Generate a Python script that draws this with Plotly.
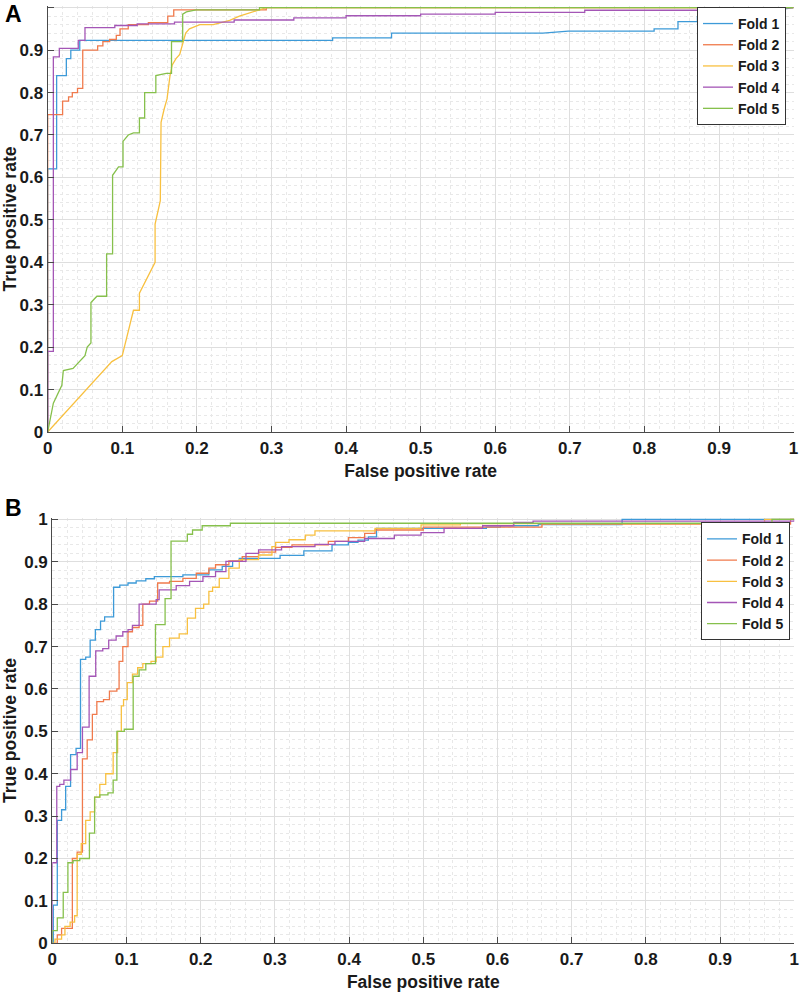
import plotly.graph_objects as go

# ---------------- Panel A data (FPR, TPR vertices) ----------------
A1_fpr = [0, 0, 0.012, 0.012, 0.025, 0.025, 0.031, 0.031, 0.043, 0.043, 0.382, 0.382, 0.461, 0.461, 0.664, 0.698, 0.813, 0.813, 0.845, 0.845, 0.871, 0.871, 0.916, 1.0]
A1_tpr = [0, 0.62, 0.62, 0.84, 0.84, 0.88, 0.88, 0.90, 0.90, 0.923, 0.923, 0.929, 0.929, 0.940, 0.940, 0.945, 0.945, 0.950, 0.950, 0.967, 0.967, 0.979, 0.979, 1.0]

A2_fpr = [0, 0, 0.020, 0.020, 0.028, 0.028, 0.033, 0.033, 0.040, 0.040, 0.047, 0.047, 0.067, 0.067, 0.074, 0.074, 0.083, 0.083, 0.092, 0.092, 0.097, 0.097, 0.108, 0.108, 0.135, 0.135, 0.161, 0.161, 0.169, 0.169, 0.293, 0.293, 1.0]
A2_tpr = [0, 0.748, 0.748, 0.78, 0.78, 0.79, 0.79, 0.80, 0.80, 0.81, 0.81, 0.90, 0.90, 0.91, 0.91, 0.92, 0.92, 0.925, 0.925, 0.935, 0.935, 0.95, 0.95, 0.96, 0.96, 0.965, 0.965, 0.98, 0.98, 0.995, 0.995, 1.0, 1.0]

A3_fpr = [0, 0.086, 0.100, 0.115, 0.123, 0.123, 0.144, 0.144, 0.151, 0.152, 0.156, 0.160, 0.164, 0.167, 0.172, 0.177, 0.181, 0.185, 0.190, 0.204, 0.222, 0.244, 0.257, 0.275, 0.293, 1.0]
A3_tpr = [0, 0.166, 0.180, 0.287, 0.287, 0.327, 0.400, 0.490, 0.545, 0.730, 0.760, 0.785, 0.840, 0.865, 0.880, 0.890, 0.915, 0.940, 0.950, 0.960, 0.960, 0.970, 0.980, 0.990, 1.0, 1.0]

A4_fpr = [0, 0, 0.0076, 0.0076, 0.0156, 0.0156, 0.041, 0.041, 0.050, 0.050, 0.09, 0.09, 0.12, 0.12, 0.17, 0.17, 0.25, 0.25, 0.33, 0.33, 0.40, 0.40, 0.50, 0.50, 0.60, 0.60, 0.72, 0.72, 0.94, 0.94, 1.0]
A4_tpr = [0, 0.19, 0.19, 0.884, 0.884, 0.904, 0.904, 0.923, 0.923, 0.953, 0.953, 0.958, 0.958, 0.962, 0.962, 0.966, 0.966, 0.971, 0.971, 0.976, 0.976, 0.981, 0.981, 0.985, 0.985, 0.989, 0.989, 0.994, 0.994, 1.0, 1.0]

A5_fpr = [0, 0.0076, 0.019, 0.021, 0.034, 0.050, 0.053, 0.058, 0.058, 0.066, 0.079, 0.079, 0.087, 0.087, 0.095, 0.101, 0.101, 0.108, 0.115, 0.123, 0.123, 0.130, 0.130, 0.137, 0.145, 0.145, 0.159, 0.166, 0.166, 0.175, 0.181, 0.181, 0.186, 0.199, 0.284, 0.284, 1.0]
A5_tpr = [0, 0.068, 0.110, 0.145, 0.150, 0.180, 0.200, 0.210, 0.305, 0.320, 0.320, 0.420, 0.420, 0.605, 0.625, 0.625, 0.685, 0.700, 0.705, 0.705, 0.740, 0.740, 0.800, 0.800, 0.800, 0.840, 0.845, 0.845, 0.920, 0.920, 0.920, 0.985, 0.990, 0.995, 0.995, 1.0, 1.0]

# ---------------- Panel B data (step points: FPR, TPR) ----------------
B1_fpr = [0, 0.0013, 0.0067, 0.0125, 0.018, 0.0246, 0.032, 0.038, 0.045, 0.051, 0.058, 0.065, 0.0705, 0.0826, 0.091, 0.102, 0.113, 0.126, 0.1375, 0.176, 0.211, 0.229, 0.243, 0.252, 0.307, 0.339, 0.377, 0.399, 0.412, 0.426, 0.437, 0.585, 0.604, 0.655, 0.768, 1.0]
B1_tpr = [0, 0.09, 0.29, 0.315, 0.37, 0.445, 0.46, 0.67, 0.675, 0.715, 0.74, 0.76, 0.77, 0.84, 0.845, 0.85, 0.855, 0.86, 0.865, 0.869, 0.881, 0.889, 0.901, 0.908, 0.915, 0.926, 0.940, 0.946, 0.951, 0.959, 0.979, 0.982, 0.985, 0.988, 1.0, 1.0]

B2_fpr = [0, 0.0067, 0.0125, 0.027, 0.0335, 0.0406, 0.047, 0.054, 0.060, 0.069, 0.077, 0.087, 0.090, 0.095, 0.102, 0.108, 0.117, 0.122, 0.131, 0.142, 0.158, 0.176, 0.194, 0.211, 0.220, 0.238, 0.256, 0.278, 0.301, 0.323, 0.372, 0.399, 0.421, 0.435, 0.50, 0.66, 0.995, 1.0]
B2_tpr = [0, 0.02, 0.035, 0.20, 0.215, 0.435, 0.48, 0.54, 0.57, 0.575, 0.595, 0.60, 0.665, 0.70, 0.735, 0.745, 0.75, 0.80, 0.807, 0.85, 0.854, 0.861, 0.873, 0.885, 0.893, 0.902, 0.912, 0.923, 0.934, 0.940, 0.948, 0.957, 0.967, 0.975, 0.982, 0.989, 1.0, 1.0]

B3_fpr = [0, 0.0036, 0.0125, 0.017, 0.024, 0.030, 0.0335, 0.039, 0.045, 0.051, 0.057, 0.064, 0.072, 0.082, 0.088, 0.093, 0.096, 0.101, 0.108, 0.115, 0.122, 0.133, 0.140, 0.149, 0.158, 0.171, 0.182, 0.193, 0.204, 0.211, 0.216, 0.225, 0.238, 0.252, 0.278, 0.296, 0.301, 0.319, 0.341, 0.354, 0.435, 0.497, 0.55, 0.96, 1.0]
B3_tpr = [0, 0.01, 0.02, 0.04, 0.05, 0.065, 0.21, 0.235, 0.29, 0.31, 0.345, 0.375, 0.40, 0.45, 0.50, 0.56, 0.575, 0.615, 0.635, 0.65, 0.66, 0.665, 0.675, 0.70, 0.72, 0.73, 0.767, 0.79, 0.80, 0.83, 0.84, 0.861, 0.885, 0.905, 0.916, 0.936, 0.946, 0.952, 0.963, 0.973, 0.979, 0.987, 0.99, 1.0, 1.0]

B4_fpr = [0, 0, 0.006, 0.010, 0.0156, 0.0246, 0.0335, 0.0406, 0.0496, 0.0585, 0.068, 0.076, 0.086, 0.095, 0.102, 0.108, 0.117, 0.131, 0.140, 0.144, 0.167, 0.185, 0.203, 0.220, 0.234, 0.261, 0.278, 0.309, 0.354, 0.381, 0.421, 0.461, 0.497, 0.528, 0.58, 0.622, 0.648, 1.0]
B4_tpr = [0, 0.19, 0.37, 0.375, 0.385, 0.41, 0.45, 0.51, 0.63, 0.69, 0.695, 0.715, 0.725, 0.735, 0.74, 0.75, 0.80, 0.80, 0.811, 0.834, 0.844, 0.854, 0.865, 0.877, 0.901, 0.920, 0.928, 0.936, 0.941, 0.948, 0.955, 0.963, 0.969, 0.979, 0.985, 0.993, 0.996, 1.0]

B5_fpr = [0, 0, 0.0067, 0.0147, 0.021, 0.028, 0.037, 0.050, 0.057, 0.064, 0.075, 0.082, 0.087, 0.097, 0.109, 0.117, 0.126, 0.139, 0.152, 0.160, 0.182, 0.189, 0.202, 0.240, 0.97, 1.0]
B5_tpr = [0, 0.03, 0.06, 0.12, 0.19, 0.195, 0.20, 0.26, 0.345, 0.35, 0.355, 0.385, 0.50, 0.505, 0.63, 0.645, 0.66, 0.752, 0.813, 0.949, 0.965, 0.975, 0.985, 0.991, 1.0, 1.0]

fold_names = ["Fold 1", "Fold 2", "Fold 3", "Fold 4", "Fold 5"]
colors = ["#3d9ad8", "#f07a4c", "#f8c040", "#a456b6", "#86c04c"]
axis_ticks = [0, 0.1, 0.2, 0.3, 0.4, 0.5, 0.6, 0.7, 0.8, 0.9, 1]
tick_text = ["0", "0.1", "0.2", "0.3", "0.4", "0.5", "0.6", "0.7", "0.8", "0.9", "1"]

A_data = [(A1_fpr, A1_tpr), (A2_fpr, A2_tpr), (A3_fpr, A3_tpr), (A4_fpr, A4_tpr), (A5_fpr, A5_tpr)]
B_data = [(B1_fpr, B1_tpr), (B2_fpr, B2_tpr), (B3_fpr, B3_tpr), (B4_fpr, B4_tpr), (B5_fpr, B5_tpr)]

FONT = "Liberation Sans, Arial, Helvetica, sans-serif"
INK = "#1a1a1a"
AXC = "#4a4a4a"

fig = go.Figure()
for (fx, ty), name, c in zip(A_data, fold_names, colors):
    fig.add_trace(go.Scatter(x=fx, y=ty, mode="lines", name=name,
                             line=dict(color=c, width=1.3, shape="linear"),
                             xaxis="x", yaxis="y", legend="legend"))
for (fx, ty), name, c in zip(B_data, fold_names, colors):
    fig.add_trace(go.Scatter(x=fx, y=ty, mode="lines", name=name,
                             line=dict(color=c, width=1.3, shape="hv"),
                             xaxis="x2", yaxis="y2", legend="legend2"))


def axis(domain, anchor, title, standoff, rng, lab_off):
    return dict(
        domain=domain, anchor=anchor, range=rng, automargin=False,
        tickmode="array", tickvals=axis_ticks, ticktext=tick_text,
        ticks="inside", ticklen=6, tickwidth=1, tickcolor=AXC,
        ticklabelstandoff=lab_off,
        showline=True, linecolor=AXC, linewidth=1.2, mirror=False,
        showgrid=True, gridcolor="#dedede", gridwidth=1,
        minor=dict(dtick=0.02, tick0=0, showgrid=True, gridcolor="#e8e8e8",
                   griddash="dot", gridwidth=1, ticks=""),
        zeroline=False,
        tickfont=dict(family=FONT, size=17, color=INK, weight="bold"),
        title=dict(text=title, standoff=standoff,
                   font=dict(family=FONT, size=17.5, color=INK, weight="bold")),
    )


layout_kw = dict(
    width=800, height=992,
    margin=dict(l=0, r=0, t=0, b=0, autoexpand=False),
    paper_bgcolor="white", plot_bgcolor="white",
    xaxis=axis([0.0596, 0.992], "y", "False positive rate", 8, [0, 1], 0),
    yaxis=axis([0.5645, 0.99395], "x", "True positive rate", 3, [0, 1.004], 0),
    xaxis2=axis([0.0654, 0.9928], "y2", "False positive rate", 8, [0, 1], 0),
    yaxis2=axis([0.0491, 0.4781], "x2", "True positive rate", 3, [0, 1.004], 0),
    legend=dict(x=0.9825, y=0.993, xanchor="right", yanchor="top",
                bgcolor="white", bordercolor="#333333", borderwidth=1,
                font=dict(family=FONT, size=14, color=INK, weight="bold"),
                itemwidth=30, tracegroupgap=0),
    legend2=dict(x=0.9875, y=0.4735, xanchor="right", yanchor="top",
                 bgcolor="white", bordercolor="#333333", borderwidth=1,
                 font=dict(family=FONT, size=14, color=INK, weight="bold"),
                 itemwidth=30, tracegroupgap=0),
    annotations=[
        dict(text="A", x=0.004, y=0.9859, xref="paper", yref="paper",
             xanchor="left", yanchor="middle", showarrow=False,
             font=dict(family=FONT, size=23, color="black", weight="bold")),
        dict(text="B", x=0.004, y=0.4879, xref="paper", yref="paper",
             xanchor="left", yanchor="middle", showarrow=False,
             font=dict(family=FONT, size=23, color="black", weight="bold")),
    ],
    showlegend=True,
)
fig.update_layout(**layout_kw)
fig.write_html(
    "out.html",
    config={"displayModeBar": False},
    post_script="document.body.style.margin='0';document.body.style.overflow='hidden';",
)
